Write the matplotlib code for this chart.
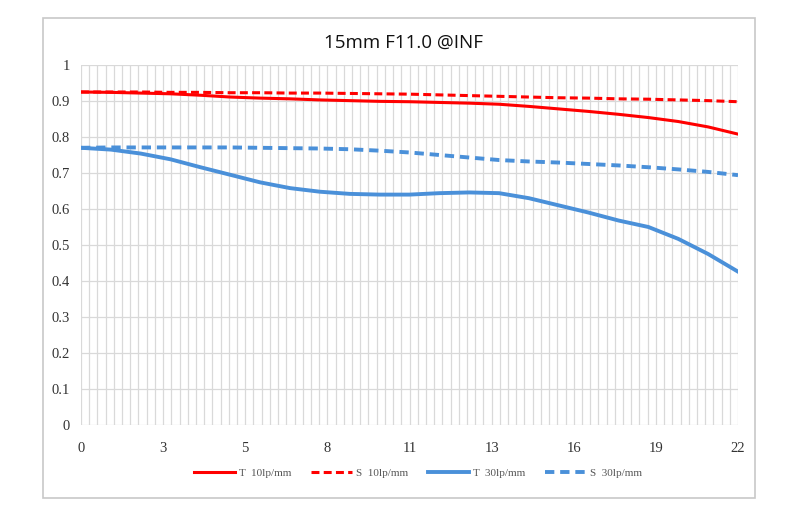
import numpy as np
import matplotlib
matplotlib.use("Agg")
import matplotlib.pyplot as plt
from matplotlib.patches import Rectangle


# field position, values
field = list(range(23))
t10 = [0.925, 0.924, 0.922, 0.920, 0.916, 0.911, 0.908, 0.906, 0.903, 0.901, 0.899, 0.898,
       0.896, 0.894, 0.891, 0.885, 0.878, 0.871, 0.863, 0.854, 0.843, 0.828, 0.808]
s10 = [0.925, 0.925, 0.925, 0.924, 0.924, 0.923, 0.923, 0.922, 0.922, 0.921, 0.920, 0.919,
       0.917, 0.915, 0.913, 0.911, 0.909, 0.908, 0.906, 0.905, 0.903, 0.901, 0.898]
t30 = [0.770, 0.765, 0.754, 0.738, 0.716, 0.695, 0.674, 0.658, 0.648, 0.642, 0.640, 0.640,
       0.644, 0.646, 0.644, 0.630, 0.610, 0.590, 0.568, 0.550, 0.517, 0.475, 0.426]
s30 = [0.770, 0.771, 0.771, 0.771, 0.771, 0.771, 0.770, 0.769, 0.768, 0.766, 0.762, 0.757,
       0.750, 0.743, 0.736, 0.732, 0.729, 0.725, 0.721, 0.716, 0.710, 0.703, 0.694]

tick_pos = [0, 2.75, 5.5, 8.25, 11, 13.75, 16.5, 19.25, 22]
tick_labels = ["0", "3", "5", "8", "11", "13", "16", "19", "22"]
y_ticks = [0, 0.1, 0.2, 0.3, 0.4, 0.5, 0.6, 0.7, 0.8, 0.9, 1]
y_labels = ["0", "0.1", "0.2", "0.3", "0.4", "0.5", "0.6", "0.7", "0.8", "0.9", "1"]

red = "#ff0000"
blue = "#4a90d9"
grid_col = "#d9d9d9"

fig = plt.figure(figsize=(7.9, 5.23), dpi=100)
ax = fig.add_axes([81 / 790, 1 - 425 / 523, (738 - 81) / 790, (425 - 65) / 523])

# chart area frame
fig.patches.append(Rectangle((43 / 790, 1 - 498 / 523), (755 - 43) / 790, (498 - 18) / 523,
                             transform=fig.transFigure, fill=False, ec="#c8c8c8", lw=1.2))

# category gridlines
for xv in np.linspace(0, 22, 81):
    ax.axvline(xv, color=grid_col, lw=0.9, zorder=0)
for yv in y_ticks:
    ax.axhline(yv, color=grid_col, lw=0.9, zorder=0)

ax.plot(field, t10, color=red, lw=2.2, label="T  10lp/mm")
ax.plot(field, s10, color=red, lw=2.2, dashes=(2.6, 1.4), label="S  10lp/mm")
ax.plot(field, t30, color=blue, lw=2.8, label="T  30lp/mm")
ax.plot(field, s30, color=blue, lw=2.8, dashes=(2.4, 1.5), label="S  30lp/mm")

ax.set_xlim(0, 22)
ax.set_ylim(0, 1)
for sp in ax.spines.values():
    sp.set_visible(False)
ax.set_xticks(tick_pos)
ax.set_xticklabels(tick_labels)
ax.set_yticks(y_ticks)
ax.set_yticklabels(y_labels)
ax.tick_params(length=0, labelsize=10.5, colors="#333333")
ax.tick_params(axis="x", pad=12)
ax.tick_params(axis="y", pad=8)
for lab in ax.get_xticklabels() + ax.get_yticklabels():
    lab.set_family("Liberation Serif")

fig.text(404 / 790, 1 - 43 / 523, "15mm F11.0 @INF", ha="center", va="center",
         fontsize=13.5, family="Open Sans", color="#111111")

leg = fig.legend(loc="center", bbox_to_anchor=(418 / 790, 1 - 473 / 523), ncol=4, frameon=False,
                 prop={"family": "Liberation Serif", "size": 8}, handlelength=3.7,
                 handletextpad=0.35, columnspacing=1.8)
for t in leg.get_texts():
    t.set_color("#555555")

fig.savefig("out.png", dpi=100)
